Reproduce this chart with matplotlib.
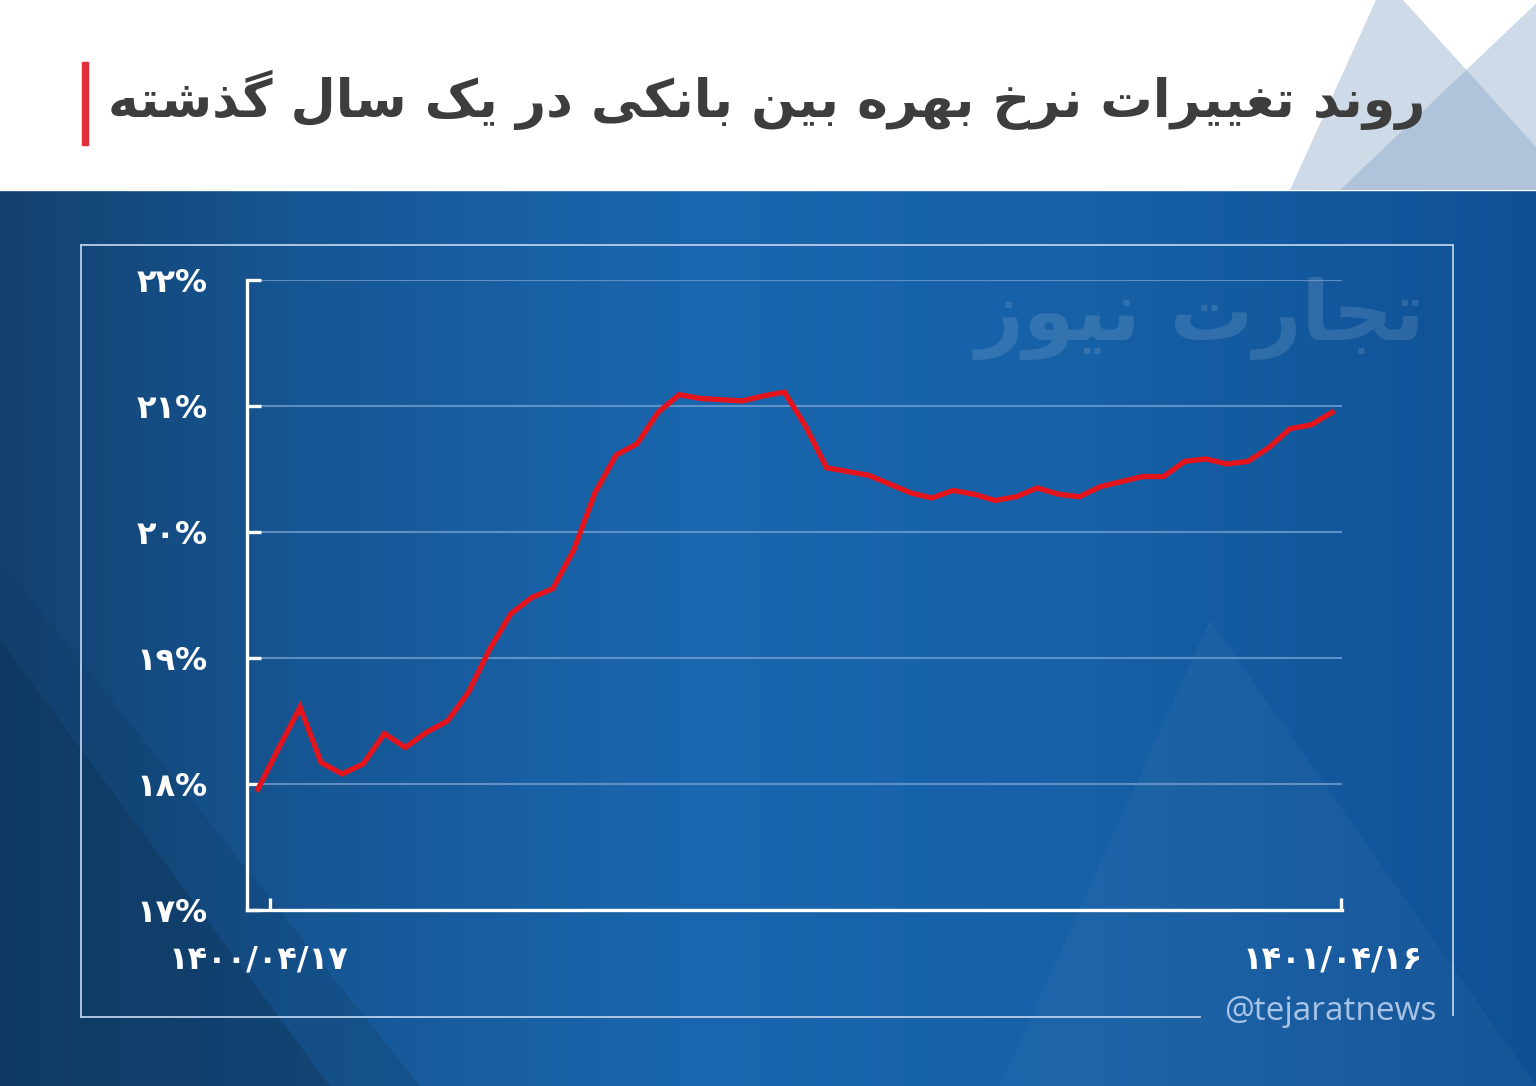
import numpy as np
import matplotlib
matplotlib.use("Agg")
import matplotlib.pyplot as plt
from matplotlib.patches import Polygon, Rectangle
from matplotlib.colors import to_rgb
from matplotlib import transforms

# weekly interbank rate, 1400/04/17 .. 1401/04/16 (percent)
rates = [17.96, 18.29, 18.61, 18.17, 18.08, 18.16, 18.40, 18.29, 18.41, 18.50,
         18.73, 19.07, 19.35, 19.48, 19.55, 19.86, 20.31, 20.61, 20.70, 20.95,
         21.09, 21.06, 21.05, 21.04, 21.08, 21.11, 20.84, 20.51, 20.48, 20.45,
         20.38, 20.31, 20.27, 20.33, 20.30, 20.25, 20.28, 20.35, 20.30, 20.28,
         20.36, 20.40, 20.44, 20.44, 20.56, 20.58, 20.54, 20.56, 20.67, 20.82,
         20.85, 20.95]
y_ticks = [17, 18, 19, 20, 21, 22]
date_labels = ["1400/04/17", "1401/04/16"]
title = "روند تغییرات نرخ بهره بین بانکی در یک سال گذشته"
watermark = "تجارت نیوز"
handle = "@tejaratnews"

# --- minimal persian shaping (matplotlib has no arabic shaping) ---
FORMS = {
    'ا': ('\uFE8D', '\uFE8E', None, None),
    'ب': ('\uFE8F', '\uFE90', '\uFE91', '\uFE92'),
    'ت': ('\uFE95', '\uFE96', '\uFE97', '\uFE98'),
    'ج': ('\uFE9D', '\uFE9E', '\uFE9F', '\uFEA0'),
    'خ': ('\uFEA5', '\uFEA6', '\uFEA7', '\uFEA8'),
    'د': ('\uFEA9', '\uFEAA', None, None),
    'ذ': ('\uFEAB', '\uFEAC', None, None),
    'ر': ('\uFEAD', '\uFEAE', None, None),
    'ز': ('\uFEAF', '\uFEB0', None, None),
    'س': ('\uFEB1', '\uFEB2', '\uFEB3', '\uFEB4'),
    'ش': ('\uFEB5', '\uFEB6', '\uFEB7', '\uFEB8'),
    'غ': ('\uFECD', '\uFECE', '\uFECF', '\uFED0'),
    'ل': ('\uFEDD', '\uFEDE', '\uFEDF', '\uFEE0'),
    'ن': ('\uFEE5', '\uFEE6', '\uFEE7', '\uFEE8'),
    'ه': ('\uFEE9', '\uFEEA', '\uFEEB', '\uFEEC'),
    'و': ('\uFEED', '\uFEEE', None, None),
    'ک': ('\uFB8E', '\uFB8F', '\uFB90', '\uFB91'),
    'گ': ('\uFB92', '\uFB93', '\uFB94', '\uFB95'),
    'ی': ('\uFBFC', '\uFBFD', '\uFBFE', '\uFBFF'),
}


def shape_fa(text):
    out = []
    for i, ch in enumerate(text):
        if ch not in FORMS:
            out.append(ch)
            continue
        prev = text[i - 1] if i > 0 else ''
        nxt = text[i + 1] if i + 1 < len(text) else ''
        iso, fin, ini, med = FORMS[ch]
        j_prev = prev in FORMS and FORMS[prev][2] is not None
        j_next = ini is not None and nxt in FORMS
        if j_prev and j_next:
            out.append(med)
        elif j_prev:
            out.append(fin)
        elif j_next:
            out.append(ini)
        else:
            out.append(iso)
    return ''.join(reversed(out))


def fa_digits(s):
    return s.translate(str.maketrans("0123456789", "۰۱۲۳۴۵۶۷۸۹"))


W, H = 1536, 1086
fig = plt.figure(figsize=(W / 100, H / 100), dpi=100)

# background in pixel coordinates
bg = fig.add_axes([0, 0, 1, 1])
bg.set_xlim(0, W)
bg.set_ylim(H, 0)
bg.axis("off")

stops_x = [0, 300, 700, 1100, 1536]
stops_c = ["#13416e", "#165694", "#1a67af", "#1660a6", "#0f5094"]
xs = np.arange(W)
grad = np.zeros((1, W, 3))
for k in range(3):
    grad[0, :, k] = np.interp(xs, stops_x, [to_rgb(c)[k] for c in stops_c])
bg.imshow(grad, extent=[0, W, H, 190], aspect="auto", zorder=0)
bg.add_patch(Polygon([(0, 640), (0, H), (330, H)], closed=True,
                     color="#0d3459", alpha=0.55, lw=0, zorder=1))
bg.add_patch(Polygon([(0, 190), (0, 640), (330, H), (420, H), (0, 560)], closed=True,
                     color="#0f3a63", alpha=0.25, lw=0, zorder=1))
bg.add_patch(Polygon([(1210, 620), (1536, 1086), (1000, 1086)], closed=True,
                     color="#ffffff", alpha=0.03, lw=0, zorder=1))

# header
bg.add_patch(Rectangle((0, 0), W, 190, color="white", zorder=2))
bg.add_patch(Polygon([(1290, 190), (1385, -20), (1575, 190)], closed=True,
                     color="#7f9fc4", alpha=0.38, lw=0, zorder=3))
bg.add_patch(Polygon([(1340, 190), (1545, -5), (1545, 190)], closed=True,
                     color="#7f9fc4", alpha=0.38, lw=0, zorder=3))
bg.add_patch(Rectangle((82, 62), 6, 83, color="#e0313a", zorder=4))
bg.text(1425, 100, shape_fa(title), ha="right", va="center", fontsize=37.5,
        fontweight="bold", color="#3d3d3d", family=["DejaVu Sans"], zorder=5)

# frame around the chart
fc = "#b9cfea"
bg.plot([81, 1453], [245, 245], color=fc, lw=1.3, zorder=2)
bg.plot([81, 81], [245, 1017], color=fc, lw=1.3, zorder=2)
bg.plot([1453, 1453], [245, 1015], color=fc, lw=1.3, zorder=2)
bg.plot([81, 1200], [1017, 1017], color=fc, lw=1.3, zorder=2)
bg.text(1437, 1012, handle, ha="right", va="center", fontsize=24,
        color="#a9c4e6", family=["Open Sans"], zorder=2)
bg.text(1200, 318, shape_fa(watermark), ha="center", va="center", fontsize=60,
        fontweight="bold", color="white", alpha=0.12, family=["DejaVu Sans"], zorder=2)

# chart axes: x from 247 to 1342 px, y from 280 to 910 px
ax = fig.add_axes([247 / W, 1 - 910 / H, (1342 - 247) / W, 630 / H])
ax.patch.set_alpha(0)
x = np.arange(len(rates))
ax.plot(x, rates, color="#e3141c", lw=3.8, solid_joinstyle="miter", zorder=3)
ax.set_xlim(-0.52, 51.47)
ax.set_ylim(17, 22)

for s in ["top", "right"]:
    ax.spines[s].set_visible(False)
for s in ["left", "bottom"]:
    ax.spines[s].set_color("white")
    ax.spines[s].set_linewidth(2.4)

ax.set_yticks(y_ticks)
ax.set_yticklabels([fa_digits(str(v)) + "%" for v in y_ticks], fontsize=23,
                   fontweight="bold", color="white", family=["DejaVu Sans"])
ax.tick_params(axis="y", direction="in", length=10, width=2.4, color="white", pad=28)
ax.grid(axis="y", color="#7ea6d6", lw=1.5, alpha=0.7)
ax.set_xticks([0.57, 51.4])
ax.set_xticklabels([])
ax.tick_params(axis="x", direction="in", length=9, width=2.4, color="white")

trans = transforms.blended_transform_factory(ax.transData, ax.transAxes)
for xi, lab in zip([0, len(rates) - 1], date_labels):
    ax.text(xi, -0.08, fa_digits(lab), transform=trans, ha="center", va="center",
            fontsize=23, fontweight="bold", color="white", family=["DejaVu Sans"])

fig.savefig("out.png", dpi=100)
